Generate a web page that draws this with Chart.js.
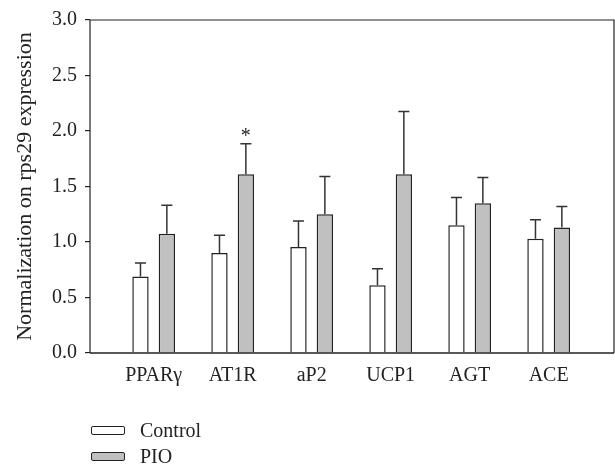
<!DOCTYPE html>
<html>
<head>
<meta charset="utf-8">
<script src="https://cdn.jsdelivr.net/npm/chart.js@4"></script>
<style>
    html, body { margin: 0; padding: 0; background: #fff; }
    #wrap { position: relative; width: 615px; height: 468px; }
    #legend { position: absolute; left: 91px; top: 417px; font-family: 'Liberation Serif', 'DejaVu Serif', serif; font-size: 20px; color: #222; }
    .legend-item { display: flex; align-items: center; height: 26px; }
    .legend-box { width: 32px; height: 7px; border: 1.3px solid #222; border-radius: 2px; margin-right: 15px; }
</style>
</head>
<body>
<div id="wrap">
    <canvas id="chart" width="615" height="468"></canvas>
    <div id="legend"></div>
</div>
<script>
// Gene labels
const categories = ['PPARγ', 'AT1R', 'aP2', 'UCP1', 'AGT', 'ACE'];

// Control (white bars)
const controlMeans = [0.69, 0.90, 0.955, 0.61, 1.15, 1.03];
const controlErrors = [0.12, 0.16, 0.235, 0.15, 0.25, 0.17];

// PIO (gray bars)
const pioMeans = [1.075, 1.61, 1.25, 1.61, 1.35, 1.13];
const pioErrors = [0.255, 0.275, 0.34, 0.565, 0.23, 0.19];
const pioMarks = ['', '*', '', '', '', ''];

const yTicks = [0, 0.5, 1.0, 1.5, 2.0, 2.5, 3.0];

const serif = "'Liberation Serif', 'DejaVu Serif', serif";
const ink = '#222';

// Error bars (upper only) and significance marks
const errorBarPlugin = {
    id: 'errorBars',
    afterDatasetsDraw(chart) {
        const ctx = chart.ctx;
        const yScale = chart.scales.y;
        ctx.save();
        chart.data.datasets.forEach((ds, d) => {
            const meta = chart.getDatasetMeta(d);
            meta.data.forEach((bar, i) => {
                const top = yScale.getPixelForValue(ds.means[i] + ds.errors[i]);
                ctx.strokeStyle = '#333';
                ctx.lineWidth = 1.5;
                ctx.beginPath();
                ctx.moveTo(bar.x, bar.y);
                ctx.lineTo(bar.x, top);
                ctx.moveTo(bar.x - 5.5, top);
                ctx.lineTo(bar.x + 5.5, top);
                ctx.stroke();
                if (ds.marks && ds.marks[i]) {
                    ctx.fillStyle = ink;
                    ctx.font = '20px ' + serif;
                    ctx.textAlign = 'center';
                    ctx.textBaseline = 'middle';
                    ctx.fillText(ds.marks[i], bar.x, top - 7);
                }
            });
        });
        ctx.restore();
    }
};

// Box around plot area
const framePlugin = {
    id: 'frame',
    afterDraw(chart) {
        const { left, right, top, bottom } = chart.chartArea;
        const ctx = chart.ctx;
        ctx.save();
        ctx.strokeStyle = ink;
        ctx.lineWidth = 1.2;
        ctx.beginPath();
        ctx.moveTo(left, bottom);
        ctx.lineTo(left, top);
        ctx.lineTo(right, top);
        ctx.lineTo(right, bottom);
        ctx.stroke();
        ctx.lineWidth = 1.6;
        ctx.beginPath();
        ctx.moveTo(left, bottom);
        ctx.lineTo(right, bottom);
        ctx.stroke();
        ctx.restore();
    }
};

const datasets = [
    {
        label: 'Control',
        data: controlMeans.map((y, i) => ({ x: i, y: y })),
        means: controlMeans,
        errors: controlErrors,
        backgroundColor: '#ffffff',
        borderColor: ink,
        borderWidth: 1.5
    },
    {
        label: 'PIO',
        data: pioMeans.map((y, i) => ({ x: i, y: y })),
        means: pioMeans,
        errors: pioErrors,
        marks: pioMarks,
        backgroundColor: '#c0c0c0',
        borderColor: ink,
        borderWidth: 1.5
    }
];

new Chart(document.getElementById('chart'), {
    type: 'bar',
    data: { datasets: datasets },
    options: {
        responsive: false,
        animation: false,
        categoryPercentage: 0.668,
        barPercentage: 0.62,
        layout: { padding: { top: 16, right: 1, left: 0, bottom: 0 } },
        plugins: {
            legend: { display: false },
            tooltip: { enabled: false }
        },
        scales: {
            x: {
                type: 'linear',
                offset: false,
                min: -0.806,
                max: 5.827,
                afterFit: scale => { scale.height = 115; },
                afterBuildTicks: scale => {
                    scale.ticks = categories.map((_, i) => ({ value: i }));
                },
                grid: { display: false },
                border: { display: false },
                ticks: {
                    autoSkip: false,
                    maxRotation: 0,
                    padding: 3,
                    color: ink,
                    font: { family: serif, size: 20 },
                    callback: value => categories[value]
                }
            },
            y: {
                min: 0,
                max: 3,
                afterFit: scale => { scale.width = 90; },
                afterBuildTicks: scale => {
                    scale.ticks = yTicks.map(v => ({ value: v }));
                },
                grid: { drawOnChartArea: false, drawTicks: true, tickLength: 5, color: ink, lineWidth: 1.2 },
                border: { display: false },
                ticks: {
                    padding: 8,
                    color: ink,
                    font: { family: serif, size: 20 },
                    callback: value => value.toFixed(1)
                },
                title: {
                    display: true,
                    text: 'Normalization on rps29 expression',
                    color: ink,
                    padding: { top: 12, bottom: 0 },
                    font: { family: serif, size: 22, lineHeight: 1.2 }
                }
            }
        }
    },
    plugins: [errorBarPlugin, framePlugin]
});

// Legend, one entry per line
const legend = document.getElementById('legend');
legend.innerHTML = datasets.map(ds => `
    <div class="legend-item">
        <div class="legend-box" style="background:${ds.backgroundColor}"></div>
        <span>${ds.label}</span>
    </div>`).join('');
</script>
</body>
</html>
